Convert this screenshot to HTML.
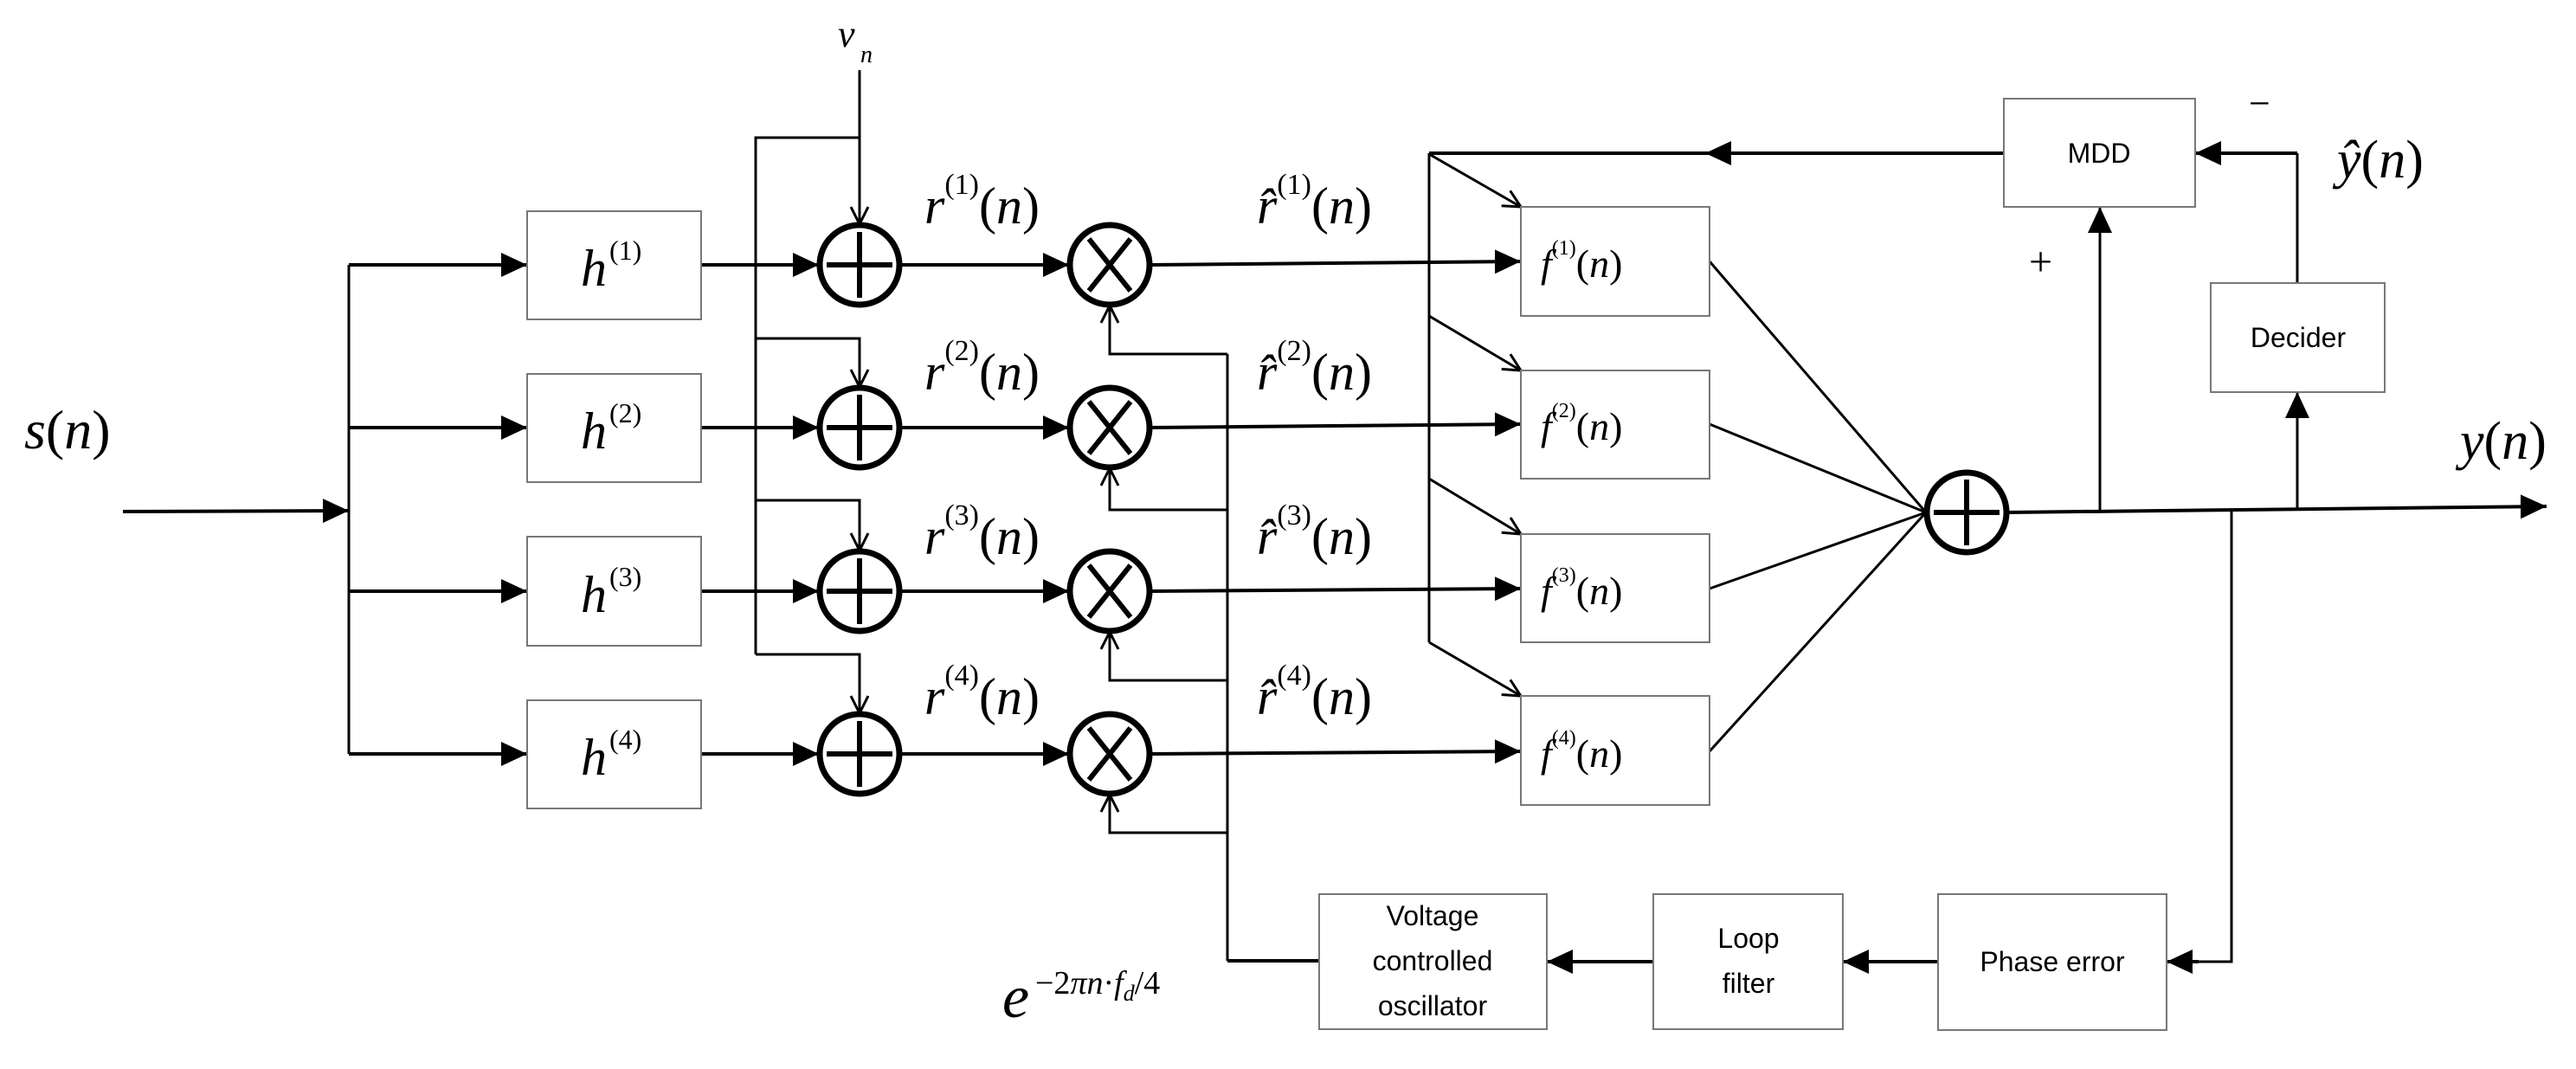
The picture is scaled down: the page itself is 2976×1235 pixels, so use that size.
<!DOCTYPE html>
<html><head><meta charset="utf-8"><style>
html,body{margin:0;padding:0;background:#fff}
svg{display:block}
.m{font-family:"Liberation Serif",serif;font-style:italic;fill:#000}
.u{font-family:"Liberation Serif",serif;font-style:normal}
.b{font-family:"Liberation Sans",sans-serif;fill:#000;font-size:32px}
</style></head><body>
<svg width="2976" height="1235" viewBox="0 0 2976 1235" xmlns="http://www.w3.org/2000/svg">
<defs>
<marker id="a" viewBox="0 0 30 28" refX="30" refY="14" markerWidth="30" markerHeight="28" markerUnits="userSpaceOnUse" orient="auto"><path d="M0,0 L30,14 L0,28 Z" fill="#000"/></marker>
<marker id="o" viewBox="0 0 24 24" refX="22" refY="12" markerWidth="24" markerHeight="24" markerUnits="userSpaceOnUse" orient="auto"><path d="M2,2 L22,12 L2,22" fill="none" stroke="#000" stroke-width="3"/></marker>
</defs>
<g stroke="#000" stroke-width="4" fill="none">
<!-- input -->
<line x1="142" y1="591" x2="403" y2="590" marker-end="url(#a)"/>
<polyline points="403,306 403,871" stroke-width="3"/>
<line x1="403" y1="306" x2="609" y2="306" marker-end="url(#a)"/>
<line x1="403" y1="494" x2="609" y2="494" marker-end="url(#a)"/>
<line x1="403" y1="683" x2="609" y2="683" marker-end="url(#a)"/>
<line x1="403" y1="871" x2="609" y2="871" marker-end="url(#a)"/>
<!-- h to adders -->
<line x1="810" y1="306" x2="946" y2="306" marker-end="url(#a)"/>
<line x1="810" y1="494" x2="946" y2="494" marker-end="url(#a)"/>
<line x1="810" y1="683" x2="946" y2="683" marker-end="url(#a)"/>
<line x1="810" y1="871" x2="946" y2="871" marker-end="url(#a)"/>
<!-- noise bus -->
<polyline points="873,756 873,159 993,159" stroke-width="3"/>
<line x1="993" y1="81" x2="993" y2="259" stroke-width="3" marker-end="url(#o)"/>
<polyline points="873,391 993,391 993,447" stroke-width="3" marker-end="url(#o)"/>
<polyline points="873,578 993,578 993,636" stroke-width="3" marker-end="url(#o)"/>
<polyline points="873,756 993,756 993,824" stroke-width="3" marker-end="url(#o)"/>
<!-- adder to mult -->
<line x1="1040" y1="306" x2="1235" y2="306" marker-end="url(#a)"/>
<line x1="1040" y1="494" x2="1235" y2="494" marker-end="url(#a)"/>
<line x1="1040" y1="683" x2="1235" y2="683" marker-end="url(#a)"/>
<line x1="1040" y1="871" x2="1235" y2="871" marker-end="url(#a)"/>
<!-- mult feedback -->
<line x1="1418" y1="409" x2="1418" y2="1110" stroke-width="3"/>
<polyline points="1418,409 1282,409 1282,353" stroke-width="3" marker-end="url(#o)"/>
<polyline points="1418,589 1282,589 1282,541" stroke-width="3" marker-end="url(#o)"/>
<polyline points="1418,786 1282,786 1282,730" stroke-width="3" marker-end="url(#o)"/>
<polyline points="1418,962 1282,962 1282,918" stroke-width="3" marker-end="url(#o)"/>
<line x1="1418" y1="1110" x2="1524" y2="1110"/>
<!-- mult to f -->
<line x1="1329" y1="306" x2="1757" y2="302" marker-end="url(#a)"/>
<line x1="1329" y1="494" x2="1757" y2="490" marker-end="url(#a)"/>
<line x1="1329" y1="683" x2="1757" y2="680" marker-end="url(#a)"/>
<line x1="1329" y1="871" x2="1757" y2="868" marker-end="url(#a)"/>
<!-- f bus -->
<line x1="1651" y1="177" x2="1651" y2="742" stroke-width="3"/>
<line x1="1651" y1="178" x2="1757" y2="239" stroke-width="3" marker-end="url(#o)"/>
<line x1="1651" y1="365" x2="1757" y2="428" stroke-width="3" marker-end="url(#o)"/>
<line x1="1651" y1="553" x2="1757" y2="617" stroke-width="3" marker-end="url(#o)"/>
<line x1="1651" y1="742" x2="1757" y2="804" stroke-width="3" marker-end="url(#o)"/>
<line x1="2315" y1="177" x2="1651" y2="177"/>
<line x1="2315" y1="177" x2="1970" y2="177" marker-end="url(#a)"/>
<!-- f to sum -->
<line x1="1975" y1="302" x2="2225" y2="592" stroke-width="3"/>
<line x1="1975" y1="490" x2="2225" y2="592" stroke-width="3"/>
<line x1="1975" y1="680" x2="2225" y2="592" stroke-width="3"/>
<line x1="1975" y1="868" x2="2225" y2="592" stroke-width="3"/>
<!-- output -->
<line x1="2319" y1="592" x2="2942" y2="585" marker-end="url(#a)"/>
<line x1="2426" y1="592" x2="2426" y2="239" stroke-width="3" marker-end="url(#a)"/>
<line x1="2654" y1="588" x2="2654" y2="453" stroke-width="3" marker-end="url(#a)"/>
<polyline points="2654,327 2654,177" stroke-width="3"/>
<line x1="2654" y1="177" x2="2536" y2="177" marker-end="url(#a)"/>
<polyline points="2578,590 2578,1111 2540,1111" stroke-width="3"/>
<line x1="2540" y1="1111" x2="2503" y2="1111" marker-end="url(#a)"/>
<line x1="2239" y1="1111" x2="2129" y2="1111" marker-end="url(#a)"/>
<line x1="1910" y1="1111" x2="1787" y2="1111" marker-end="url(#a)"/>
</g>
<!-- boxes -->
<g stroke="#777" stroke-width="2" fill="#fff">
<rect x="609" y="244" width="201" height="125"/>
<rect x="609" y="432" width="201" height="125"/>
<rect x="609" y="620" width="201" height="126"/>
<rect x="609" y="809" width="201" height="125"/>
<rect x="1757" y="239" width="218" height="126"/>
<rect x="1757" y="428" width="218" height="125"/>
<rect x="1757" y="617" width="218" height="125"/>
<rect x="1757" y="804" width="218" height="126"/>
<rect x="2315" y="114" width="221" height="125"/>
<rect x="2554" y="327" width="201" height="126"/>
<rect x="1524" y="1033" width="263" height="156"/>
<rect x="1910" y="1033" width="219" height="156"/>
<rect x="2239" y="1033" width="264" height="157"/>
</g>
<!-- circles -->
<g stroke="#000" stroke-width="7" fill="#fff">
<circle cx="993" cy="306" r="46"/><circle cx="993" cy="494" r="46"/><circle cx="993" cy="683" r="46"/><circle cx="993" cy="871" r="46"/>
<circle cx="1282" cy="306" r="46"/><circle cx="1282" cy="494" r="46"/><circle cx="1282" cy="683" r="46"/><circle cx="1282" cy="871" r="46"/>
<circle cx="2272" cy="592" r="46"/>
</g>
<g stroke="#000" stroke-width="6">
<path d="M993,268V344M955,306H1031M993,456V532M955,494H1031M993,645V721M955,683H1031M993,833V909M955,871H1031M2272,554V630M2234,592H2310"/>
<path d="M1258,276L1306,336M1306,276L1258,336M1258,464L1306,524M1306,464L1258,524M1258,653L1306,713M1306,653L1258,713M1258,841L1306,901M1306,841L1258,901"/>
</g>
<!-- math labels -->
<g class="m">
<text x="28" y="518" font-size="64">s<tspan class="u">(</tspan>n<tspan class="u">)</tspan></text>
<text x="968" y="54" font-size="44">v</text><text x="994" y="72" font-size="28">n</text>
<text x="671" y="330" font-size="60">h</text><text x="704" y="300" font-size="32" class="u">(1)</text>
<text x="671" y="518" font-size="60">h</text><text x="704" y="488" font-size="32" class="u">(2)</text>
<text x="671" y="707" font-size="60">h</text><text x="704" y="677" font-size="32" class="u">(3)</text>
<text x="671" y="895" font-size="60">h</text><text x="704" y="865" font-size="32" class="u">(4)</text>
<g font-size="60">
<text x="1068" y="258">r<tspan class="u" font-size="34" dy="-34">(1)</tspan><tspan class="u" dy="34">(</tspan>n<tspan class="u">)</tspan></text>
<text x="1068" y="450">r<tspan class="u" font-size="34" dy="-34">(2)</tspan><tspan class="u" dy="34">(</tspan>n<tspan class="u">)</tspan></text>
<text x="1068" y="640">r<tspan class="u" font-size="34" dy="-34">(3)</tspan><tspan class="u" dy="34">(</tspan>n<tspan class="u">)</tspan></text>
<text x="1068" y="825">r<tspan class="u" font-size="34" dy="-34">(4)</tspan><tspan class="u" dy="34">(</tspan>n<tspan class="u">)</tspan></text>
<text x="1452" y="258">r̂<tspan class="u" font-size="34" dy="-34">(1)</tspan><tspan class="u" dy="34">(</tspan>n<tspan class="u">)</tspan></text>
<text x="1452" y="450">r̂<tspan class="u" font-size="34" dy="-34">(2)</tspan><tspan class="u" dy="34">(</tspan>n<tspan class="u">)</tspan></text>
<text x="1452" y="640">r̂<tspan class="u" font-size="34" dy="-34">(3)</tspan><tspan class="u" dy="34">(</tspan>n<tspan class="u">)</tspan></text>
<text x="1452" y="825">r̂<tspan class="u" font-size="34" dy="-34">(4)</tspan><tspan class="u" dy="34">(</tspan>n<tspan class="u">)</tspan></text>
</g>
<g font-size="46">
<text x="1780" y="320">f<tspan class="u" font-size="24" dy="-26">(1)</tspan><tspan class="u" dy="26">(</tspan>n<tspan class="u">)</tspan></text>
<text x="1780" y="508">f<tspan class="u" font-size="24" dy="-26">(2)</tspan><tspan class="u" dy="26">(</tspan>n<tspan class="u">)</tspan></text>
<text x="1780" y="698">f<tspan class="u" font-size="24" dy="-26">(3)</tspan><tspan class="u" dy="26">(</tspan>n<tspan class="u">)</tspan></text>
<text x="1780" y="886">f<tspan class="u" font-size="24" dy="-26">(4)</tspan><tspan class="u" dy="26">(</tspan>n<tspan class="u">)</tspan></text>
</g>
<text x="2700" y="205" font-size="62">ŷ<tspan class="u">(</tspan>n<tspan class="u">)</tspan></text>
<text x="2842" y="530" font-size="62">y<tspan class="u">(</tspan>n<tspan class="u">)</tspan></text>
<text x="1158" y="1175" font-size="70">e</text>
<text x="1196" y="1148" font-size="38"><tspan class="u">−2</tspan>πn<tspan class="u">·</tspan>f<tspan font-size="26" dy="8">d</tspan><tspan class="u" dy="-8">/4</tspan></text>
</g>
<text x="2598" y="134" font-size="44" class="u" style="font-family:'Liberation Serif',serif">−</text>
<text x="2344" y="318" font-size="48" style="font-family:'Liberation Serif',serif">+</text>
<!-- box labels -->
<text class="b" x="2425" y="188" text-anchor="middle">MDD</text>
<text class="b" x="2655" y="401" text-anchor="middle">Decider</text>
<text class="b" x="1655" y="1069" text-anchor="middle">Voltage</text>
<text class="b" x="1655" y="1121" text-anchor="middle">controlled</text>
<text class="b" x="1655" y="1173" text-anchor="middle">oscillator</text>
<text class="b" x="2020" y="1095" text-anchor="middle">Loop</text>
<text class="b" x="2020" y="1147" text-anchor="middle">filter</text>
<text class="b" x="2371" y="1122" text-anchor="middle">Phase error</text>
</svg>
</body></html>
